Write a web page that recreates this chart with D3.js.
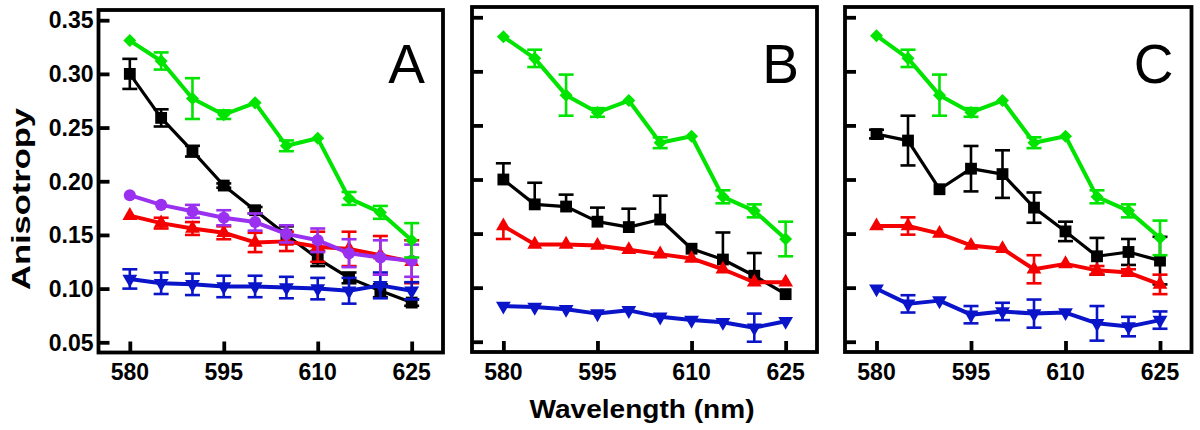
<!DOCTYPE html>
<html><head><meta charset="utf-8">
<script src="https://cdn.jsdelivr.net/npm/d3@7"></script>
<style>body{margin:0;background:#fff}svg{display:block}</style>
</head><body><svg id="c" width="1200" height="430"></svg>
<script>
// ---------- data ----------
const wavelengths = [580, 585, 590, 595, 600, 605, 610, 615, 620, 625];
const xTickValues = [580, 595, 610, 625];
const yTickValues = [0.05, 0.10, 0.15, 0.20, 0.25, 0.30, 0.35];
const panelLabels = ["A", "B", "C"];

// Panel A
const aGreen     = [0.331, 0.312, 0.277, 0.262, 0.273, 0.233, 0.240, 0.184, 0.171, 0.145];
const aGreenErr  = [0, 0.008, 0.019, 0.004, 0, 0.005, 0, 0.006, 0.006, 0.016];
const aBlack     = [0.300, 0.259, 0.228, 0.196, 0.173, 0.150, 0.128, 0.110, 0.098, 0.087];
const aBlackErr  = [0.014, 0.008, 0.005, 0.002, 0.003, 0.008, 0.007, 0.005, 0.006, 0.003];
const aPurple    = [0.187, 0.178, 0.172, 0.166, 0.162, 0.151, 0.145, 0.133, 0.129, 0.126];
const aPurpleErr = [0, 0, 0.006, 0.007, 0.008, 0.008, 0.011, 0.013, 0.016, 0.015];
const aRed       = [0.168, 0.161, 0.156, 0.152, 0.143, 0.144, 0.139, 0.137, 0.131, 0.125];
const aRedErr    = [0, 0.005, 0.006, 0.006, 0.009, 0.009, 0.014, 0.016, 0.018, 0.020];
const aBlue      = [0.109, 0.105, 0.104, 0.102, 0.102, 0.101, 0.100, 0.098, 0.103, 0.098];
const aBlueErr   = [0.009, 0.010, 0.010, 0.010, 0.010, 0.010, 0.010, 0.012, 0.012, 0.008];

// Panel B
const bGreen     = [0.332, 0.312, 0.278, 0.262, 0.273, 0.234, 0.240, 0.184, 0.171, 0.145];
const bGreenErr  = [0, 0.008, 0.019, 0.004, 0, 0.005, 0, 0.006, 0.006, 0.016];
const bBlack     = [0.200, 0.177, 0.175, 0.161, 0.156, 0.163, 0.136, 0.126, 0.111, 0.094];
const bBlackErrUp   = [0.015, 0.020, 0.011, 0.013, 0.017, 0.022, 0, 0.025, 0.021, 0];
const bBlackErrDown = [0, 0, 0, 0, 0, 0, 0, 0, 0, 0];
const bRed       = [0.157, 0.140, 0.140, 0.139, 0.135, 0.131, 0.127, 0.117, 0.105, 0.105];
const bRedErrUp   = [0, 0, 0, 0, 0, 0, 0, 0, 0, 0];
const bRedErrDown = [0.012, 0, 0, 0, 0, 0, 0, 0, 0, 0];
const bBlue      = [0.083, 0.082, 0.080, 0.076, 0.079, 0.073, 0.070, 0.068, 0.063, 0.069];
const bBlueErr   = [0, 0, 0, 0, 0, 0, 0, 0, 0.013, 0];

// Panel C
const cGreen     = [0.333, 0.312, 0.278, 0.262, 0.273, 0.234, 0.240, 0.184, 0.171, 0.146];
const cGreenErr  = [0, 0.008, 0.019, 0.004, 0, 0.005, 0, 0.006, 0.006, 0.016];
const cBlack     = [0.242, 0.236, 0.191, 0.210, 0.205, 0.174, 0.152, 0.129, 0.133, 0.125];
const cBlackErr  = [0.004, 0.023, 0, 0.021, 0.022, 0.014, 0.009, 0.017, 0.012, 0.022];
const cRed       = [0.157, 0.157, 0.150, 0.139, 0.136, 0.117, 0.122, 0.116, 0.114, 0.103];
const cRedErr    = [0, 0.008, 0, 0, 0, 0.013, 0, 0.004, 0.003, 0.009];
const cBlue      = [0.099, 0.085, 0.088, 0.075, 0.078, 0.076, 0.077, 0.067, 0.064, 0.070];
const cBlueErr   = [0, 0.008, 0, 0.008, 0.008, 0.013, 0, 0.016, 0.009, 0.008];

// ---------- styles ----------
const COLORS = {green: "#00e400", black: "#000000", purple: "#9a30f0", red: "#f40000", blue: "#0a14c8"};
const panels = [
  {label: "A", x0: 98.5, x1: 443, y0: 10, y1: 352.5, showY: true,
   series: [
     {c: "black", shape: "square", v: aBlack, up: aBlackErr, dn: aBlackErr},
     {c: "red", shape: "tri", v: aRed, up: aRedErr, dn: aRedErr},
     {c: "blue", shape: "tridown", v: aBlue, up: aBlueErr, dn: aBlueErr},
     {c: "purple", shape: "circle", v: aPurple, up: aPurpleErr, dn: aPurpleErr},
     {c: "green", shape: "diamond", v: aGreen, up: aGreenErr, dn: aGreenErr}
   ]},
  {label: "B", x0: 472, x1: 817, y0: 7, y1: 352, showY: false,
   series: [
     {c: "black", shape: "square", v: bBlack, up: bBlackErrUp, dn: bBlackErrDown},
     {c: "red", shape: "tri", v: bRed, up: bRedErrUp, dn: bRedErrDown},
     {c: "blue", shape: "tridown", v: bBlue, up: bBlueErr, dn: bBlueErr},
     {c: "green", shape: "diamond", v: bGreen, up: bGreenErr, dn: bGreenErr}
   ]},
  {label: "C", x0: 845, x1: 1191.5, y0: 7, y1: 352, showY: false,
   series: [
     {c: "black", shape: "square", v: cBlack, up: cBlackErr, dn: cBlackErr},
     {c: "red", shape: "tri", v: cRed, up: cRedErr, dn: cRedErr},
     {c: "blue", shape: "tridown", v: cBlue, up: cBlueErr, dn: cBlueErr},
     {c: "green", shape: "diamond", v: cGreen, up: cGreenErr, dn: cGreenErr}
   ]}
];

const svg = d3.select("#c");
const FONT = "'Liberation Sans', Arial, sans-serif";

function symbolPath(shape) {
  switch (shape) {
    case "square": return d3.symbol().type(d3.symbolSquare).size(140)();
    case "diamond": return d3.symbol().type(d3.symbolSquare).size(85)();
    case "circle": return d3.symbol().type(d3.symbolCircle).size(115)();
    case "tri": return d3.symbol().type(d3.symbolTriangle).size(95)();
    case "tridown": return d3.symbol().type(d3.symbolTriangle).size(95)();
  }
}
function symbolRot(shape) {
  return shape === "diamond" ? 45 : shape === "tridown" ? 180 : 0;
}

panels.forEach((p, pi) => {
  const x = d3.scaleLinear().domain([575, 630]).range([p.x0, p.x1]);
  const y = d3.scaleLinear().domain([0.0405, 0.3595]).range([p.y1, p.y0]);
  const g = svg.append("g");

  // series
  p.series.forEach(s => {
    const col = COLORS[s.c];
    const sg = g.append("g");
    // error bars
    wavelengths.forEach((w, i) => {
      const up = s.up[i], dn = s.dn[i];
      if (up <= 0 && dn <= 0) return;
      const cx = x(w);
      const yt = y(s.v[i] + up), yb = y(s.v[i] - dn);
      sg.append("line").attr("x1", cx).attr("x2", cx).attr("y1", yt).attr("y2", yb)
        .attr("stroke", col).attr("stroke-width", 2.6);
      if (up > 0) sg.append("line").attr("x1", cx - 7.5).attr("x2", cx + 7.5).attr("y1", yt).attr("y2", yt)
        .attr("stroke", col).attr("stroke-width", 2.6);
      if (dn > 0) sg.append("line").attr("x1", cx - 7.5).attr("x2", cx + 7.5).attr("y1", yb).attr("y2", yb)
        .attr("stroke", col).attr("stroke-width", 2.6);
    });
    // line
    const line = d3.line().x((d, i) => x(wavelengths[i])).y(d => y(d));
    sg.append("path").datum(s.v).attr("d", line).attr("fill", "none")
      .attr("stroke", col).attr("stroke-width", s.c === "black" ? 3.2 : 4)
      .attr("stroke-linejoin", "round");
    // markers
    sg.selectAll("path.m").data(s.v).enter().append("path").attr("class", "m")
      .attr("d", symbolPath(s.shape))
      .attr("transform", (d, i) => `translate(${x(wavelengths[i])},${y(d)}) rotate(${symbolRot(s.shape)})`)
      .attr("fill", col);
  });

  // frame
  g.append("rect").attr("x", p.x0).attr("y", p.y0)
    .attr("width", p.x1 - p.x0).attr("height", p.y1 - p.y0)
    .attr("fill", "none").attr("stroke", "#000").attr("stroke-width", 3.8);

  // y axis (inward ticks)
  const yAxis = d3.axisRight(y).tickValues(yTickValues).tickSize(11).tickFormat("");
  const ya = g.append("g").attr("transform", `translate(${p.x0},0)`).call(yAxis);
  ya.select(".domain").remove();
  ya.selectAll(".tick line").attr("stroke", "#000").attr("stroke-width", 3.8);
  if (p.showY) {
    yTickValues.forEach(t => {
      g.append("text").attr("x", p.x0 - 5).attr("y", y(t)).attr("dy", "0.36em")
        .attr("text-anchor", "end").attr("font-family", FONT).attr("font-weight", "bold")
        .attr("font-size", 23).text(d3.format(".2f")(t));
    });
  }

  // x axis (inward ticks)
  const xAxis = d3.axisTop(x).tickValues(xTickValues).tickSize(11).tickFormat("");
  const xa = g.append("g").attr("transform", `translate(0,${p.y1})`).call(xAxis);
  xa.select(".domain").remove();
  xa.selectAll(".tick line").attr("stroke", "#000").attr("stroke-width", 3.8);
  xTickValues.forEach(t => {
    g.append("text").attr("x", x(t)).attr("y", 380).attr("text-anchor", "middle")
      .attr("font-family", FONT).attr("font-weight", "bold").attr("font-size", 23).text(t);
  });

  // panel letter
  g.append("text").attr("x", p.x1 - 18).attr("y", 83).attr("text-anchor", "end")
    .attr("font-family", FONT).attr("font-size", 55).text(panelLabels[pi]);
});

// axis titles
svg.append("text").attr("transform", "translate(30,199) rotate(-90)")
  .attr("text-anchor", "middle").attr("font-family", FONT).attr("font-weight", "bold")
  .attr("font-size", 26).attr("textLength", 182).attr("lengthAdjust", "spacingAndGlyphs")
  .text("Anisotropy");
svg.append("text").attr("x", 642).attr("y", 418)
  .attr("text-anchor", "middle").attr("font-family", FONT).attr("font-weight", "bold")
  .attr("font-size", 25).attr("textLength", 225).attr("lengthAdjust", "spacingAndGlyphs")
  .text("Wavelength (nm)");
</script></body></html>
